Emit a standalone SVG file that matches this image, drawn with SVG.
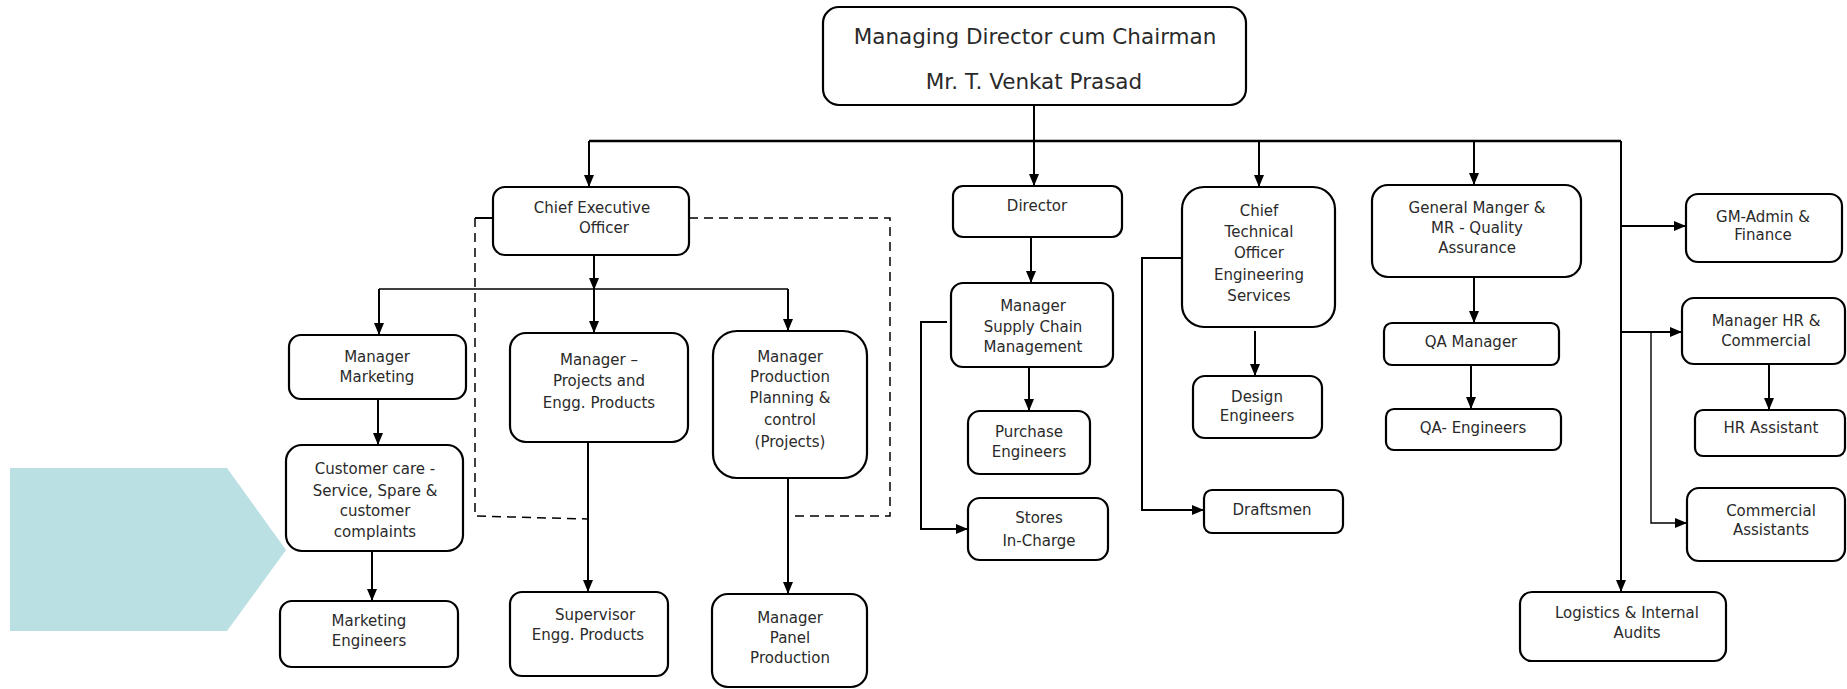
<svg xmlns="http://www.w3.org/2000/svg" width="1847" height="689" viewBox="0 0 1847 689">
<defs>
<marker id="arr" markerUnits="userSpaceOnUse" markerWidth="12" markerHeight="10" refX="12" refY="5" orient="auto">
<path d="M0,0 L12,5 L0,10 Z" fill="#000"/>
</marker>
<style>
.box{fill:#fff;stroke:#000;stroke-width:2.2}
.t{font-family:"DejaVu Sans","Liberation Sans",sans-serif;font-size:15px;fill:#2a2a2a;text-anchor:middle}
.big{font-size:21.5px}
.c{fill:none;stroke:#000;stroke-width:2}
.thin{fill:none;stroke:#000;stroke-width:1.4}
.dash{fill:none;stroke:#000;stroke-width:1.5;stroke-dasharray:9,6}
</style>
</defs>
<rect width="1847" height="689" fill="#fff"/>
<polygon points="10,468 227,468 286,550 227,631 10,631" fill="#BBE0E3"/>

<g id="connectors">
<path class="c" d="M1034 105 V186" marker-end="url(#arr)"/>
<path class="c" style="stroke-width:2.5" d="M589 141 H1621"/>
<path class="c" d="M589 141 V187" marker-end="url(#arr)"/>
<path class="c" d="M1259 141 V187" marker-end="url(#arr)"/>
<path class="c" d="M1474 141 V185" marker-end="url(#arr)"/>
<path class="c" d="M1621 141 V592" marker-end="url(#arr)"/>
<path class="c" d="M1621 226 H1686" marker-end="url(#arr)"/>
<path class="c" d="M1621 332 H1682" marker-end="url(#arr)"/>
<path class="thin" d="M1651 332 V523 H1687" marker-end="url(#arr)"/>
<path class="c" d="M1769 364 V410" marker-end="url(#arr)"/>
<path class="c" d="M1474 277 V323" marker-end="url(#arr)"/>
<path class="c" d="M1471 365 V409" marker-end="url(#arr)"/>
<path class="c" d="M1255 331 V376" marker-end="url(#arr)"/>
<path class="c" d="M1182 258 H1142 V510 H1204" marker-end="url(#arr)"/>
<path class="c" d="M1031 237 V283" marker-end="url(#arr)"/>
<path class="c" d="M1029 367 V411" marker-end="url(#arr)"/>
<path class="c" d="M947 322 H921 V529 H968" marker-end="url(#arr)"/>
<path class="c" d="M594 255 V290" marker-end="url(#arr)"/>
<path class="c" d="M594 289 V333" marker-end="url(#arr)"/>
<path class="thin" d="M379 289 H788"/>
<path class="c" d="M379 289 V335" marker-end="url(#arr)"/>
<path class="c" d="M788 289 V331" marker-end="url(#arr)"/>
<path class="c" d="M378 399 V445" marker-end="url(#arr)"/>
<path class="c" d="M372 551 V601" marker-end="url(#arr)"/>
<path class="c" d="M588 442 V592" marker-end="url(#arr)"/>
<path class="c" d="M788 478 V594" marker-end="url(#arr)"/>
<path class="c" d="M493 218 H475"/>
<path class="dash" d="M475 218 V516 L588 519"/>
<path class="dash" d="M689 218 H890 V516 H788"/>
</g>

<g id="md"><rect class="box" x="823" y="7" width="423" height="98" rx="16"/>
<text class="t big" x="1035" y="44">Managing Director cum Chairman</text>
<text class="t big" x="1034" y="89">Mr. T. Venkat Prasad</text></g>

<g id="ceo"><rect class="box" x="493" y="187" width="196" height="68" rx="12"/>
<text class="t" x="592" y="213">Chief Executive</text>
<text class="t" x="604" y="233">Officer</text></g>

<g id="director"><rect class="box" x="953" y="186" width="169" height="51" rx="10"/>
<text class="t" x="1037" y="211">Director</text></g>

<g id="scm"><rect class="box" x="951" y="283" width="162" height="84" rx="12"/>
<text class="t" x="1033" y="311">Manager</text>
<text class="t" x="1033" y="332">Supply Chain</text>
<text class="t" x="1033" y="352">Management</text></g>

<g id="purchase"><rect class="box" x="968" y="411" width="122" height="63" rx="12"/>
<text class="t" x="1029" y="437">Purchase</text>
<text class="t" x="1029" y="457">Engineers</text></g>

<g id="stores"><rect class="box" x="968" y="498" width="140" height="62" rx="12"/>
<text class="t" x="1039" y="523">Stores</text>
<text class="t" x="1039" y="546">In-Charge</text></g>

<g id="cto"><rect class="box" x="1182" y="187" width="153" height="140" rx="22"/>
<text class="t" x="1259" y="216">Chief</text>
<text class="t" x="1259" y="237">Technical</text>
<text class="t" x="1259" y="258">Officer</text>
<text class="t" x="1259" y="280">Engineering</text>
<text class="t" x="1259" y="301">Services</text></g>

<g id="design"><rect class="box" x="1193" y="376" width="129" height="62" rx="12"/>
<text class="t" x="1257" y="402">Design</text>
<text class="t" x="1257" y="421">Engineers</text></g>

<g id="draftsmen"><rect class="box" x="1204" y="490" width="139" height="43" rx="8"/>
<text class="t" x="1272" y="515">Draftsmen</text></g>

<g id="gmqa"><rect class="box" x="1372" y="185" width="209" height="92" rx="16"/>
<text class="t" x="1477" y="213">General Manger &amp;</text>
<text class="t" x="1477" y="233">MR - Quality</text>
<text class="t" x="1477" y="253">Assurance</text></g>

<g id="qamgr"><rect class="box" x="1384" y="323" width="175" height="42" rx="8"/>
<text class="t" x="1471" y="347">QA Manager</text></g>

<g id="qaeng"><rect class="box" x="1386" y="409" width="175" height="41" rx="8"/>
<text class="t" x="1473" y="433">QA- Engineers</text></g>

<g id="gmadmin"><rect class="box" x="1686" y="194" width="156" height="68" rx="12"/>
<text class="t" x="1763" y="222">GM-Admin &amp;</text>
<text class="t" x="1763" y="240">Finance</text></g>

<g id="mhr"><rect class="box" x="1682" y="298" width="163" height="66" rx="12"/>
<text class="t" x="1766" y="326">Manager HR &amp;</text>
<text class="t" x="1766" y="346">Commercial</text></g>

<g id="hrasst"><rect class="box" x="1695" y="410" width="150" height="46" rx="8"/>
<text class="t" x="1771" y="433">HR Assistant</text></g>

<g id="commasst"><rect class="box" x="1687" y="488" width="158" height="73" rx="12"/>
<text class="t" x="1771" y="516">Commercial</text>
<text class="t" x="1771" y="535">Assistants</text></g>

<g id="logistics"><rect class="box" x="1520" y="592" width="206" height="69" rx="12"/>
<text class="t" x="1627" y="618">Logistics &amp; Internal</text>
<text class="t" x="1637" y="638">Audits</text></g>

<g id="mktmgr"><rect class="box" x="289" y="335" width="177" height="64" rx="12"/>
<text class="t" x="377" y="362">Manager</text>
<text class="t" x="377" y="382">Marketing</text></g>

<g id="projmgr"><rect class="box" x="510" y="333" width="178" height="109" rx="16"/>
<text class="t" x="599" y="365">Manager –</text>
<text class="t" x="599" y="386">Projects and</text>
<text class="t" x="599" y="408">Engg. Products</text></g>

<g id="ppc"><rect class="box" x="713" y="331" width="154" height="147" rx="24"/>
<text class="t" x="790" y="362">Manager</text>
<text class="t" x="790" y="382">Production</text>
<text class="t" x="790" y="403">Planning &amp;</text>
<text class="t" x="790" y="425">control</text>
<text class="t" x="790" y="447">(Projects)</text></g>

<g id="custcare"><rect class="box" x="286" y="445" width="177" height="106" rx="16"/>
<text class="t" x="375" y="474">Customer care -</text>
<text class="t" x="375" y="496">Service, Spare &amp;</text>
<text class="t" x="375" y="516">customer</text>
<text class="t" x="375" y="537">complaints</text></g>

<g id="mkteng"><rect class="box" x="280" y="601" width="178" height="66" rx="12"/>
<text class="t" x="369" y="626">Marketing</text>
<text class="t" x="369" y="646">Engineers</text></g>

<g id="supervisor"><rect class="box" x="510" y="592" width="158" height="84" rx="12"/>
<text class="t" x="595" y="620">Supervisor</text>
<text class="t" x="588" y="640">Engg. Products</text></g>

<g id="panel"><rect class="box" x="712" y="594" width="155" height="93" rx="16"/>
<text class="t" x="790" y="623">Manager</text>
<text class="t" x="790" y="643">Panel</text>
<text class="t" x="790" y="663">Production</text></g>
</svg>
